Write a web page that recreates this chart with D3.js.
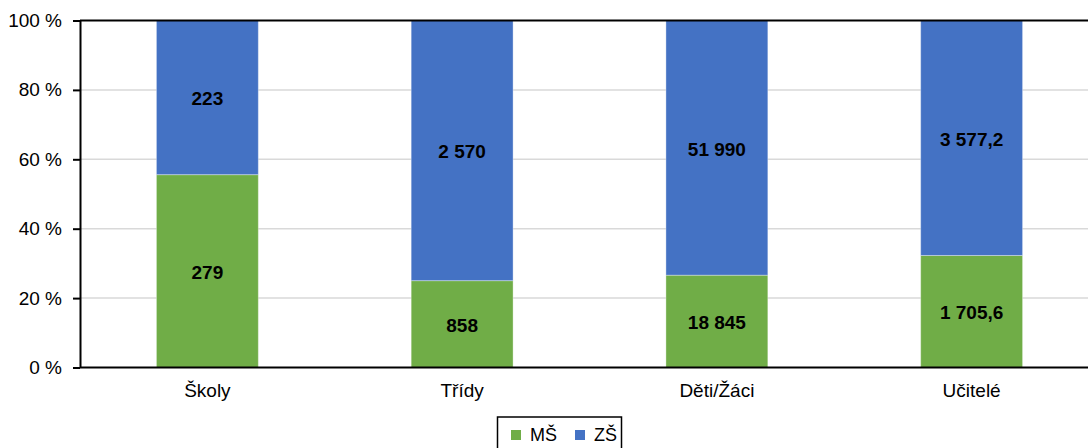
<!DOCTYPE html>
<html><head><meta charset="utf-8">
<script src="https://cdn.jsdelivr.net/npm/d3@7"></script>
<style>body{margin:0;background:#fff;overflow:hidden}svg{display:block;font-family:"Liberation Sans",Arial,sans-serif}</style>
</head><body>
<svg id="c" width="1088" height="448"></svg>
<script>
const categories = ["Školy", "Třídy", "Děti/Žáci", "Učitelé"];
const seriesNames = ["MŠ", "ZŠ"];
const valuesMS = [279, 858, 18845, 1705.6];
const valuesZS = [223, 2570, 51990, 3577.2];
const yTicks = [0, 20, 40, 60, 80, 100];
const colors = ["#70ad47", "#4472c4"];

const svg = d3.select("#c");
const L = 80, R = 1099, T = 20.5, B = 367.5;
const x = d3.scaleBand().domain(categories).range([L, R]).paddingInner(0.6).paddingOuter(0.3);
const y = d3.scaleLinear().domain([0, 100]).range([B, T]);
const loc = d3.formatLocale({decimal: ",", thousands: "\u00a0", grouping: [3], currency: ["", ""]});
const fmtInt = loc.format(",d"), fmtDec = loc.format(",.1f");
const fmt = v => Number.isInteger(v) ? fmtInt(v) : fmtDec(v);
const FS = 19;

// gridlines
svg.append("g").selectAll("line").data(yTicks.filter(t => t > 0 && t < 100)).join("line")
  .attr("x1", L).attr("x2", 1088).attr("y1", d => y(d)).attr("y2", d => y(d))
  .attr("stroke", "#d9d9d9").attr("stroke-width", 1.5);

const data = categories.map((c, i) => {
  const tot = valuesMS[i] + valuesZS[i];
  return {c, ms: valuesMS[i], zs: valuesZS[i], pms: valuesMS[i] / tot * 100};
});

const g = svg.append("g");
data.forEach(d => {
  const segs = [
    {v: d.ms, y0: 0, y1: d.pms, col: colors[0]},
    {v: d.zs, y0: d.pms, y1: 100, col: colors[1]}
  ];
  segs.forEach(s => {
    g.append("rect").attr("x", x(d.c)).attr("width", x.bandwidth())
      .attr("y", y(s.y1)).attr("height", y(s.y0) - y(s.y1))
      .attr("fill", s.col).attr("stroke", "rgba(255,255,255,0.35)").attr("stroke-width", 1);
    g.append("text").attr("x", x(d.c) + x.bandwidth() / 2).attr("y", (y(s.y0) + y(s.y1)) / 2 + 1)
      .attr("text-anchor", "middle").attr("dy", "0.36em")
      .attr("font-size", FS).attr("font-weight", "bold").attr("fill", "#000").text(fmt(s.v));
  });
});

// axes
const yAxis = svg.append("g").attr("transform", `translate(${L},0)`)
  .call(d3.axisLeft(y).tickValues(yTicks).tickFormat(d => d + " %").tickSize(7).tickSizeOuter(0));
yAxis.select(".domain").attr("stroke", "#000").attr("stroke-width", 2);
yAxis.selectAll(".tick line").attr("stroke", "#000").attr("stroke-width", 2);
yAxis.selectAll(".tick text").attr("font-size", FS).attr("fill", "#000").attr("x", -18)
  .attr("font-family", "Liberation Sans, Arial, sans-serif");

svg.append("line").attr("x1", L).attr("x2", 1088).attr("y1", T).attr("y2", T).attr("stroke", "#000").attr("stroke-width", 2);
const xAxis = svg.append("g").attr("transform", `translate(0,${B})`)
  .call(d3.axisBottom(x).tickSize(0).tickPadding(16));
xAxis.select(".domain").attr("stroke", "#000").attr("stroke-width", 2).attr("d", `M${L},0H1088`);
xAxis.selectAll(".tick text").attr("font-size", FS).attr("fill", "#000")
  .attr("font-family", "Liberation Sans, Arial, sans-serif");

// legend
const lg = svg.append("g");
lg.append("rect").attr("x", 497.5).attr("y", 417).attr("width", 124).attr("height", 40)
  .attr("fill", "#fff").attr("stroke", "#000").attr("stroke-width", 1.5);
const lx = [511, 575];
seriesNames.forEach((n, i) => {
  lg.append("rect").attr("x", lx[i]).attr("y", 430).attr("width", 10).attr("height", 10).attr("fill", colors[i]);
  lg.append("text").attr("x", lx[i] + 19).attr("y", 441)
    .attr("font-size", 18).attr("fill", "#000").text(n);
});
</script>
</body></html>
